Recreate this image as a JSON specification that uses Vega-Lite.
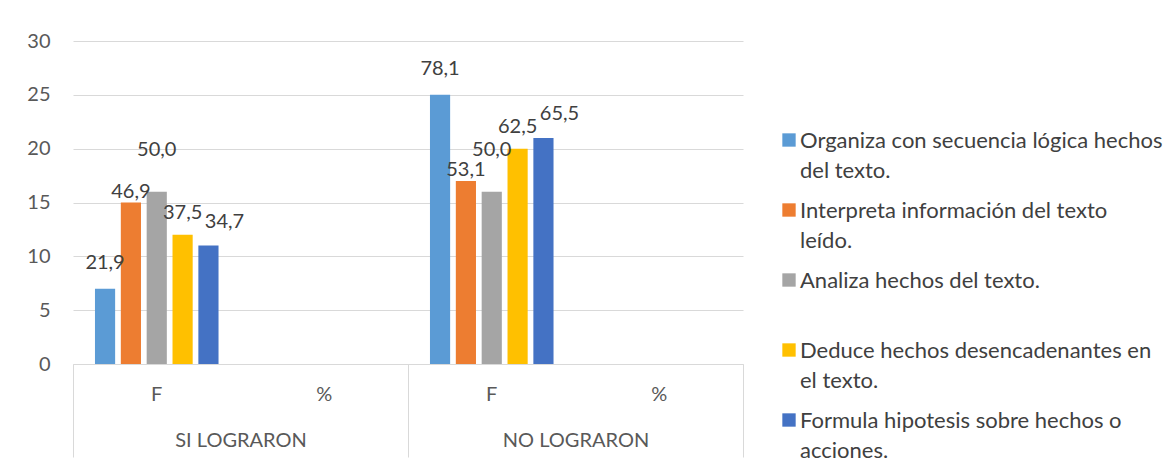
{
  "$schema": "https://vega.github.io/schema/vega-lite/v6.json",
  "width": 670,
  "height": 323,
  "autosize": "none",
  "padding": {"left": 73, "top": 41, "right": 429, "bottom": 98},
  "background": "white",
  "config": {
    "font": "Lato",
    "view": {"stroke": null},
    "locale": {"number": {"decimal": ",", "thousands": ".", "grouping": [3], "currency": ["", ""]}},
    "style": {"guide-label": {"lineHeight": 30, "dy": 8}}
  },
  "layer": [
    {
      "data": {
        "values": [
          {"grupo": "SI LOGRARON", "cat": "SI LOGRARON|F", "serie": "Organiza con secuencia lógica hechos del texto.", "f": 7, "pct": 21.9},
          {"grupo": "SI LOGRARON", "cat": "SI LOGRARON|F", "serie": "Interpreta información del texto leído.", "f": 15, "pct": 46.9},
          {"grupo": "SI LOGRARON", "cat": "SI LOGRARON|F", "serie": "Analiza hechos del texto.", "f": 16, "pct": 50.0},
          {"grupo": "SI LOGRARON", "cat": "SI LOGRARON|F", "serie": "Deduce hechos desencadenantes en el texto.", "f": 12, "pct": 37.5},
          {"grupo": "SI LOGRARON", "cat": "SI LOGRARON|F", "serie": "Formula hipotesis sobre hechos o acciones.", "f": 11, "pct": 34.7},
          {"grupo": "NO LOGRARON", "cat": "NO LOGRARON|F", "serie": "Organiza con secuencia lógica hechos del texto.", "f": 25, "pct": 78.1},
          {"grupo": "NO LOGRARON", "cat": "NO LOGRARON|F", "serie": "Interpreta información del texto leído.", "f": 17, "pct": 53.1},
          {"grupo": "NO LOGRARON", "cat": "NO LOGRARON|F", "serie": "Analiza hechos del texto.", "f": 16, "pct": 50.0},
          {"grupo": "NO LOGRARON", "cat": "NO LOGRARON|F", "serie": "Deduce hechos desencadenantes en el texto.", "f": 20, "pct": 62.5},
          {"grupo": "NO LOGRARON", "cat": "NO LOGRARON|F", "serie": "Formula hipotesis sobre hechos o acciones.", "f": 21, "pct": 65.5}
        ]
      },
      "encoding": {
        "x": {
          "field": "cat",
          "type": "nominal",
          "scale": {
            "domain": ["SI LOGRARON|F", "SI LOGRARON|%", "NO LOGRARON|F", "NO LOGRARON|%"],
            "paddingInner": 0,
            "paddingOuter": 0
          },
          "axis": {
            "orient": "bottom",
            "title": null,
            "labelExpr": "split(datum.label, '|')[1]",
            "labelAngle": 0,
            "ticks": false,
            "domainColor": "#d9d9d9",
            "domainWidth": 1,
            "labelPadding": 12,
            "labelFontSize": 20,
            "labelColor": "#595959"
          }
        },
        "xOffset": {
          "field": "serie",
          "type": "nominal",
          "sort": ["Organiza con secuencia lógica hechos del texto.", "Interpreta información del texto leído.", "Analiza hechos del texto.", "Deduce hechos desencadenantes en el texto.", "Formula hipotesis sobre hechos o acciones."],
          "scale": {"paddingInner": 0.22, "paddingOuter": 0.85}
        },
        "y": {
          "field": "f",
          "type": "quantitative",
          "scale": {"domain": [0, 30]},
          "axis": {
            "title": null,
            "values": [0, 5, 10, 15, 20, 25, 30],
            "domain": false,
            "ticks": false,
            "gridColor": "#d9d9d9",
            "labelPadding": 23,
            "labelOffset": -8,
            "labelFontSize": 20,
            "labelColor": "#595959"
          }
        },
        "text": {"field": "pct", "type": "quantitative", "format": ".1f"}
      },
      "layer": [
        {
          "mark": {"type": "bar"},
          "encoding": {
            "text": null,
            "color": {
              "field": "serie",
              "type": "nominal",
              "scale": {
                "domain": ["Organiza con secuencia lógica hechos del texto.", "Interpreta información del texto leído.", "Analiza hechos del texto.", "Deduce hechos desencadenantes en el texto.", "Formula hipotesis sobre hechos o acciones."],
                "range": ["#5B9BD5", "#ED7D31", "#A5A5A5", "#FFC000", "#4472C4"]
              },
              "legend": {
                "title": null,
                "orient": "none",
                "legendX": 705,
                "legendY": 88,
                "symbolType": "square",
                "symbolSize": 178,
                "symbolStrokeWidth": 0,
                "labelFontSize": 22,
                "labelColor": "#404040",
                "labelLimit": 500,
                "labelOffset": 0,
                "rowPadding": 17,
                "labelBaseline": "alphabetic",
                "labelExpr": "datum.label == 'Organiza con secuencia lógica hechos del texto.' ? ['Organiza con secuencia lógica hechos', 'del texto.'] : datum.label == 'Interpreta información del texto leído.' ? ['Interpreta información del texto', 'leído.'] : datum.label == 'Deduce hechos desencadenantes en el texto.' ? ['Deduce hechos desencadenantes en', 'el texto.'] : datum.label == 'Formula hipotesis sobre hechos o acciones.' ? ['Formula hipotesis sobre hechos o', 'acciones.'] : [datum.label, '']"
              }
            }
          }
        },
        {
          "transform": [{"filter": "datum.serie == 'Organiza con secuencia lógica hechos del texto.'"}],
          "mark": {"type": "text", "baseline": "middle", "dy": -26, "fontSize": 20, "color": "#404040"}
        },
        {
          "transform": [{"filter": "datum.serie == 'Interpreta información del texto leído.'"}],
          "mark": {"type": "text", "baseline": "middle", "dy": -11, "fontSize": 20, "color": "#404040"}
        },
        {
          "transform": [{"filter": "datum.serie == 'Analiza hechos del texto.'"}],
          "mark": {"type": "text", "baseline": "middle", "dy": -42, "fontSize": 20, "color": "#404040"}
        },
        {
          "transform": [{"filter": "datum.serie == 'Deduce hechos desencadenantes en el texto.'"}],
          "mark": {"type": "text", "baseline": "middle", "dy": -22, "fontSize": 20, "color": "#404040"}
        },
        {
          "transform": [{"filter": "datum.serie == 'Formula hipotesis sobre hechos o acciones.'"}],
          "mark": {"type": "text", "baseline": "middle", "dy": -24, "dx": 16, "fontSize": 20, "color": "#404040"}
        }
      ]
    },
    {
      "data": {"values": [{"grupo": "SI LOGRARON"}, {"grupo": "NO LOGRARON"}]},
      "mark": {"type": "rule", "opacity": 0},
      "encoding": {
        "x": {
          "field": "grupo",
          "type": "nominal",
          "scale": {"domain": ["SI LOGRARON", "NO LOGRARON"], "paddingInner": 0, "paddingOuter": 0},
          "axis": {
            "orient": "bottom",
            "title": null,
            "labelAngle": 0,
            "domain": false,
            "ticks": true,
            "tickBand": "extent",
            "tickSize": 93,
            "tickColor": "#d9d9d9",
            "labelPadding": -35,
            "labelFontSize": 20,
            "labelColor": "#595959"
          }
        }
      }
    }
  ],
  "resolve": {"scale": {"x": "independent"}}
}
